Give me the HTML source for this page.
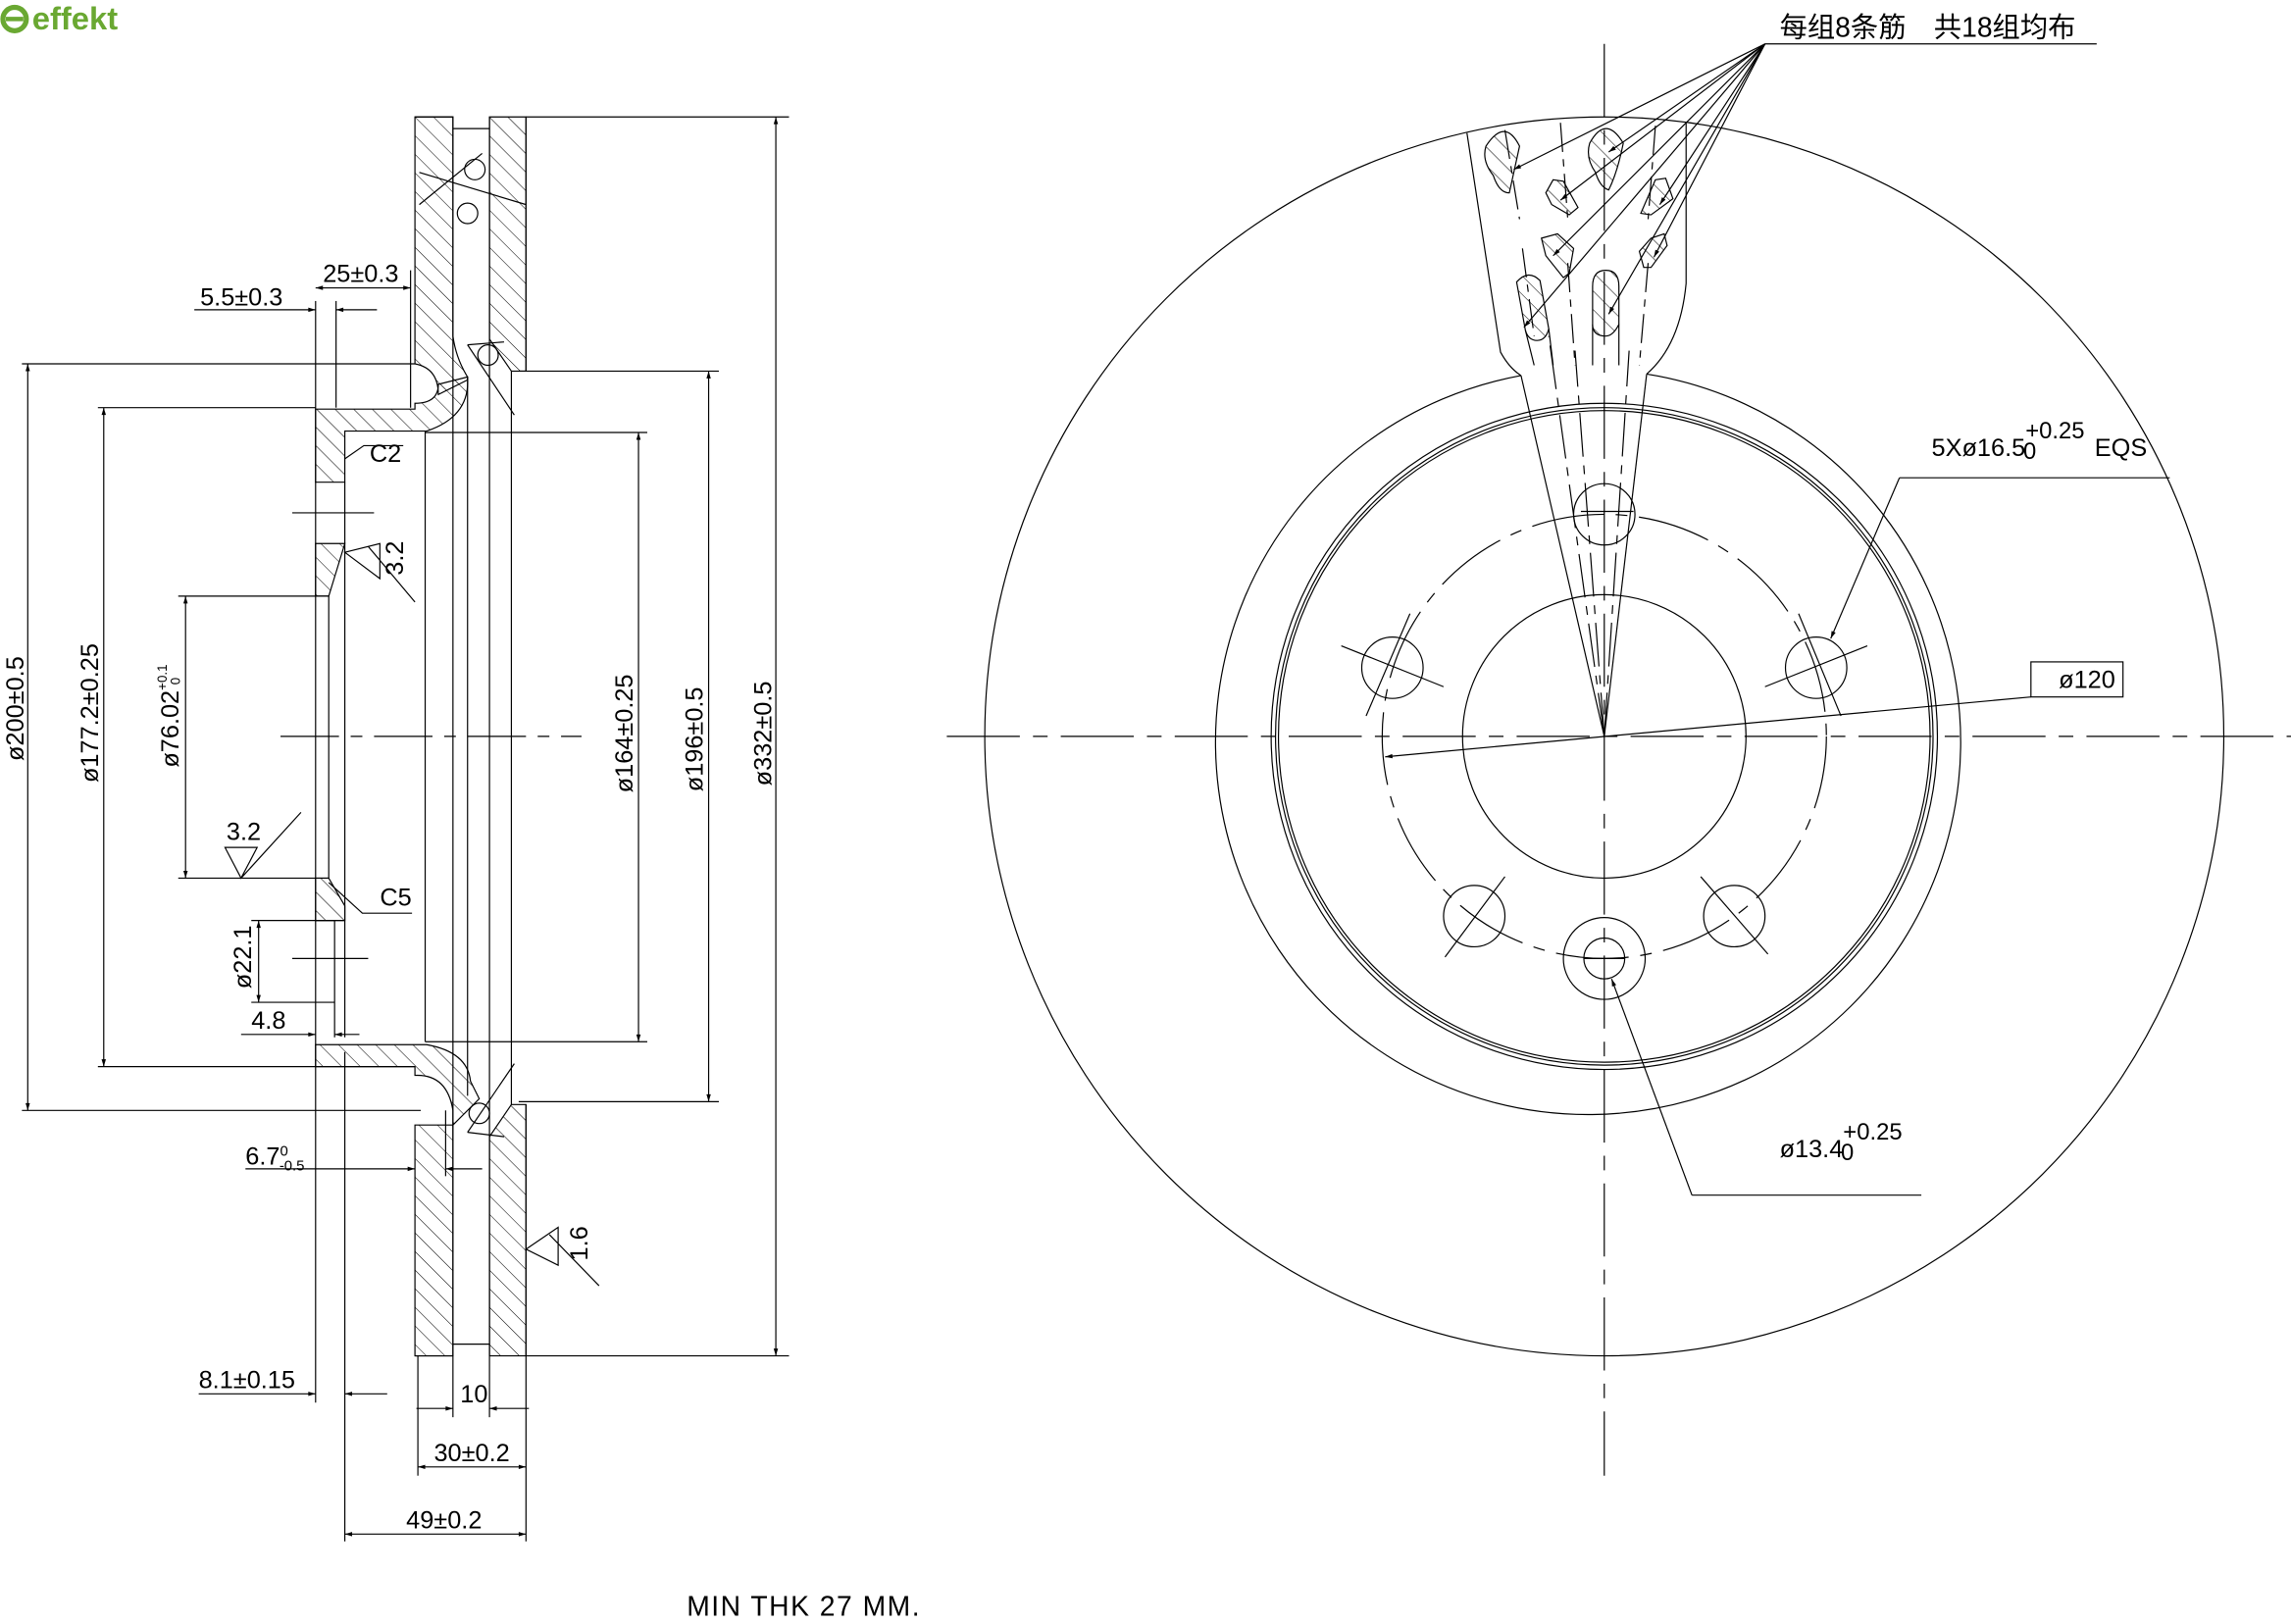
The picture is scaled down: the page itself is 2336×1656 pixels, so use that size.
<!DOCTYPE html>
<html><head><meta charset="utf-8"><style>
html,body{margin:0;padding:0;background:#fff;}
svg{display:block;}
text{font-family:"Liberation Sans","Noto Sans CJK SC",sans-serif;fill:#000;}
</style></head><body>
<svg width="2336" height="1656" viewBox="0 0 1568 1111.5" xmlns="http://www.w3.org/2000/svg">
<defs>
<pattern id="h" width="9" height="9" patternUnits="userSpaceOnUse" patternTransform="rotate(-45)">
<line x1="0" y1="0" x2="0" y2="9" stroke="#000" stroke-width="0.7"/></pattern>
<marker id="a" viewBox="0 0 10 10" refX="10" refY="5" markerWidth="9" markerHeight="5" orient="auto-start-reverse" markerUnits="userSpaceOnUse"><path d="M0,2 L10,5 L0,8 z" fill="#000"/></marker>
</defs>
<rect width="1568" height="1111.5" fill="#fff"/>
<!-- logo -->
<circle cx="10" cy="13" r="8" fill="none" stroke="#6aa832" stroke-width="3.5"/>
<line x1="4" y1="13" x2="16" y2="13" stroke="#6aa832" stroke-width="3"/>
<text x="22" y="20" font-size="22" font-weight="bold" style="fill:#6aa832">effekt</text>

<g stroke="#000" stroke-width="0.8" fill="none">
<!-- LEFT SECTION -->
<!-- left plate -->
<path d="M284,80 H310 V230 Q312,245 320,258 V260 L300,270 Q300,252 284,249 Z" fill="url(#h)"/>
<path d="M284,770 H310 V928 H284 Z" fill="url(#h)"/>
<path d="M284,80 H310 V928 H284"/>
<!-- right plate -->
<path d="M335,80 H360 V254 H350 L335,232 Z" fill="url(#h)"/>
<path d="M335,928 H360 V756 H350 L335,778 Z" fill="url(#h)"/>
<line x1="335" y1="80" x2="335" y2="928"/><line x1="360" y1="80" x2="360" y2="254"/><line x1="360" y1="756" x2="360" y2="928"/>
<line x1="350" y1="254" x2="350" y2="756"/><line x1="320" y1="258" x2="320" y2="750"/>
<line x1="310" y1="88" x2="335" y2="88"/><line x1="310" y1="920" x2="335" y2="920"/>
<line x1="291" y1="295" x2="291" y2="713"/>
<!-- vent circles/lines -->
<circle cx="325" cy="116" r="7"/><circle cx="320" cy="146" r="7"/><circle cx="334" cy="243" r="7"/><circle cx="328" cy="762" r="7"/>
<line x1="287" y1="118" x2="360" y2="140"/><line x1="287" y1="140" x2="330" y2="105"/>
<line x1="320" y1="236" x2="352" y2="284"/><line x1="320" y1="236" x2="345" y2="234"/>
<line x1="320" y1="775" x2="352" y2="728"/><line x1="320" y1="775" x2="345" y2="778"/>
<!-- top flange -->
<path d="M216,280 H284 V276 Q300,276 300,263 L320,258 Q322,285 292,295 H236 V330 H216 Z" fill="url(#h)"/>
<path d="M216,372 H236 L225,408 H216 Z" fill="url(#h)"/>
<line x1="236" y1="330" x2="236" y2="710"/>
<line x1="216" y1="280" x2="216" y2="730"/>
<line x1="225" y1="408" x2="225" y2="601"/>
<path d="M216,601 H225 L236,620 V630 H216 Z" fill="url(#h)"/>
<path d="M216,630 H236" /><line x1="229" y1="630" x2="229" y2="710"/>
<line x1="200" y1="351" x2="256" y2="351"/><line x1="200" y1="656" x2="252" y2="656"/>
<!-- bottom flange -->
<path d="M216,715 H292 Q320,720 322,740 L328,752 L310,770 L310,760 Q306,735 284,736 V730 H216 Z" fill="url(#h)"/>
<line x1="216" y1="730" x2="284" y2="730"/>
<!-- center line -->
<line x1="192" y1="504" x2="398" y2="504" stroke-dasharray="40,8,8,8"/>
<!-- dimensions -->
<line x1="360" y1="80" x2="540" y2="80"/><line x1="360" y1="928" x2="540" y2="928"/>
<line x1="531" y1="80" x2="531" y2="928" marker-start="url(#a)" marker-end="url(#a)"/>
<line x1="355" y1="254" x2="492" y2="254"/><line x1="355" y1="754" x2="492" y2="754"/>
<line x1="485" y1="254" x2="485" y2="754" marker-start="url(#a)" marker-end="url(#a)"/>
<line x1="291" y1="296" x2="443" y2="296"/><line x1="291" y1="713" x2="443" y2="713"/>
<line x1="437" y1="296" x2="437" y2="713" marker-start="url(#a)" marker-end="url(#a)"/>
<line x1="15" y1="249" x2="284" y2="249"/><line x1="15" y1="760" x2="288" y2="760"/>
<line x1="19" y1="249" x2="19" y2="760" marker-start="url(#a)" marker-end="url(#a)"/>
<line x1="67" y1="279" x2="216" y2="279"/><line x1="67" y1="730" x2="216" y2="730"/>
<line x1="71" y1="279" x2="71" y2="730" marker-start="url(#a)" marker-end="url(#a)"/>
<line x1="122" y1="408" x2="225" y2="408"/><line x1="122" y1="601" x2="225" y2="601"/>
<line x1="127" y1="408" x2="127" y2="601" marker-start="url(#a)" marker-end="url(#a)"/>
<!-- 5.5 / 25 -->
<line x1="230" y1="206" x2="230" y2="279"/><line x1="216" y1="206" x2="216" y2="280"/>
<line x1="133" y1="212" x2="216" y2="212" marker-end="url(#a)"/><line x1="258" y1="212" x2="230" y2="212" marker-end="url(#a)"/>
<line x1="281" y1="185" x2="281" y2="279"/>
<line x1="216" y1="197" x2="281" y2="197" marker-start="url(#a)" marker-end="url(#a)"/>
<!-- 22.1 / 4.8 -->
<line x1="172" y1="630" x2="229" y2="630"/><line x1="172" y1="686" x2="229" y2="686"/>
<line x1="177" y1="630" x2="177" y2="686" marker-start="url(#a)" marker-end="url(#a)"/>
<line x1="165" y1="708" x2="216" y2="708" marker-end="url(#a)"/><line x1="246" y1="708" x2="229" y2="708" marker-end="url(#a)"/>
<!-- 6.7 -->
<line x1="168" y1="800" x2="284" y2="800" marker-end="url(#a)"/><line x1="330" y1="800" x2="305" y2="800" marker-end="url(#a)"/>
<line x1="305" y1="760" x2="305" y2="805"/>
<!-- bottom dims -->
<line x1="216" y1="730" x2="216" y2="960"/><line x1="236" y1="720" x2="236" y2="1055"/>
<line x1="136" y1="954" x2="216" y2="954" marker-end="url(#a)"/><line x1="265" y1="954" x2="236" y2="954" marker-end="url(#a)"/>
<line x1="286" y1="928" x2="286" y2="1010"/><line x1="360" y1="928" x2="360" y2="1055"/>
<line x1="310" y1="928" x2="310" y2="970"/><line x1="335" y1="928" x2="335" y2="970"/>
<line x1="285" y1="964" x2="310" y2="964" marker-end="url(#a)"/><line x1="362" y1="964" x2="335" y2="964" marker-end="url(#a)"/>
<line x1="286" y1="1004" x2="360" y2="1004" marker-start="url(#a)" marker-end="url(#a)"/>
<line x1="236" y1="1050" x2="360" y2="1050" marker-start="url(#a)" marker-end="url(#a)"/>
<!-- leaders -->
<path d="M236,314 L249,305 H276"/><path d="M225,604 L248,625 H282"/>
<path d="M236,378 L260,372 V396 L236,378 Z M252,374 L284,412"/>
<path d="M154,580 H176 L165,601 Z M165,601 L206,556"/>
<path d="M360,855 L382,840 V866 Z M376,845 L410,880"/>

<!-- RIGHT VIEW -->
<circle cx="1098" cy="504" r="424"/>
<path d="M1041,257 A255,255 0 1 0 1127,256"/>
<circle cx="1098" cy="504" r="228"/><circle cx="1098" cy="504" r="225"/><circle cx="1098" cy="504" r="223"/>
<circle cx="1098" cy="504" r="152" stroke-dasharray="50,8,8,8"/>
<circle cx="1098" cy="504" r="97"/>
<line x1="648" y1="504" x2="1568" y2="504" stroke-dasharray="50,9,10,9"/>
<line x1="1098" y1="30" x2="1098" y2="1010" stroke-dasharray="50,9,10,9"/>
<!-- bolt holes -->
<circle cx="1098" cy="352" r="21"/><circle cx="953" cy="457" r="21"/><circle cx="1243" cy="457" r="21"/>
<circle cx="1009" cy="627" r="21"/><circle cx="1187" cy="627" r="21"/>
<circle cx="1098" cy="656" r="28"/><circle cx="1098" cy="656" r="14"/>
<line x1="1082" y1="350" x2="1118" y2="350"/><line x1="918" y1="442" x2="988" y2="470"/><line x1="935" y1="490" x2="965" y2="420"/>
<line x1="1208" y1="470" x2="1278" y2="442"/><line x1="1231" y1="420" x2="1260" y2="490"/>
<line x1="989" y1="655" x2="1030" y2="600"/><line x1="1164" y1="600" x2="1210" y2="653"/><line x1="1084" y1="656" x2="1112" y2="656"/>
<!-- radial lines to vent area -->
<line x1="1098" y1="504" x2="1041" y2="257"/><line x1="1098" y1="504" x2="1127" y2="256"/>
<line x1="1098" y1="504" x2="1060" y2="230" stroke-dasharray="30,6,6,6"/><line x1="1098" y1="504" x2="1078" y2="240" stroke-dasharray="30,6,6,6"/>
<line x1="1098" y1="504" x2="1115" y2="240" stroke-dasharray="30,6,6,6"/>
<!-- vent fan -->
<path d="M1004,91 L1027,241 Q1033,252 1041,257"/>
<path d="M1154,84 L1154,194 Q1150,236 1127,256"/>
<path d="M1030,89 L1040,150 M1042,170 L1050,230" stroke-dasharray="20,5,5,5"/>
<path d="M1068,84 L1073,150 M1073,180 L1078,250" stroke-dasharray="20,5,5,5"/>
<path d="M1133,86 L1128,150 M1128,180 L1122,250" stroke-dasharray="20,5,5,5"/>
<path d="M1017,100 Q1030,80 1040,100 Q1036,118 1033,132 Q1026,132 1022,120 Q1014,110 1017,100 Z" fill="url(#h)"/>
<path d="M1088,98 Q1099,78 1111,98 Q1107,118 1101,130 Q1095,128 1092,118 Q1085,108 1088,98 Z" fill="url(#h)"/>
<path d="M1063,123 L1070,124 L1080,142 L1074,147 L1062,140 L1058,132 Z" fill="url(#h)"/>
<path d="M1133,123 L1140,122 L1145,136 L1130,147 L1123,146 Z" fill="url(#h)"/>
<path d="M1055,163 L1066,160 L1077,170 L1074,187 L1070,190 L1058,175 Z" fill="url(#h)"/>
<path d="M1130,163 L1139,160 L1141,168 L1130,183 L1125,183 L1122,172 Z" fill="url(#h)"/>
<path d="M1038,193 Q1046,184 1054,192 L1060,225 Q1058,233 1052,233 Q1046,233 1044,226 Z" fill="url(#h)"/>
<path d="M1090,196 Q1090,185 1099,185 Q1108,185 1108,196 V222 Q1104,230 1099,230 Q1090,230 1090,222 Z" fill="url(#h)"/>
<path d="M1090,222 V250 M1108,222 V250 M1044,226 L1050,250 M1060,225 L1063,250"/>
<!-- leader from note -->
<line x1="1208" y1="30" x2="1435" y2="30"/>
<g marker-end="url(#a)">
<line x1="1208" y1="30" x2="1036" y2="116"/><line x1="1208" y1="30" x2="1101" y2="104"/>
<line x1="1208" y1="30" x2="1068" y2="137"/><line x1="1208" y1="30" x2="1136" y2="140"/>
<line x1="1208" y1="30" x2="1063" y2="175"/><line x1="1208" y1="30" x2="1132" y2="176"/>
<line x1="1208" y1="30" x2="1043" y2="224"/><line x1="1208" y1="30" x2="1101" y2="215"/>
</g>
<!-- callouts -->
<line x1="1300" y1="327" x2="1485" y2="327"/><line x1="1300" y1="327" x2="1253" y2="437" marker-end="url(#a)"/>
<rect x="1390" y="453" width="63" height="24"/>
<line x1="1390" y1="477" x2="948" y2="518" marker-end="url(#a)"/>
<line x1="1158" y1="818" x2="1315" y2="818"/><line x1="1158" y1="818" x2="1103" y2="670" marker-end="url(#a)"/>
</g>

<!-- texts -->
<g font-size="17">
<text x="137" y="209">5.5±0.3</text>
<text x="221" y="193">25±0.3</text>
<text x="253" y="316">C2</text>
<text x="260" y="620">C5</text>
<text x="155" y="575">3.2</text>
<text x="172" y="704">4.8</text>
<text x="168" y="797">6.7<tspan font-size="10" dy="-6">0</tspan><tspan font-size="10" dx="-6" dy="10">-0.5</tspan></text>
<text x="136" y="950">8.1±0.15</text>
<text x="315" y="960">10</text>
<text x="297" y="1000">30±0.2</text>
<text x="278" y="1046">49±0.2</text>
<text transform="translate(16,485) rotate(-90)" text-anchor="middle">ø200±0.5</text>
<text transform="translate(67,488) rotate(-90)" text-anchor="middle">ø177.2±0.25</text>
<text transform="translate(122,490) rotate(-90)" text-anchor="middle">ø76.02<tspan font-size="9" dy="-8">+0.1</tspan><tspan font-size="9" dx="-14" dy="9">0</tspan></text>
<text transform="translate(433,502) rotate(-90)" text-anchor="middle">ø164±0.25</text>
<text transform="translate(481,506) rotate(-90)" text-anchor="middle">ø196±0.5</text>
<text transform="translate(528,502) rotate(-90)" text-anchor="middle">ø332±0.5</text>
<text transform="translate(276,382) rotate(-90)" text-anchor="middle">3.2</text>
<text transform="translate(402,851) rotate(-90)" text-anchor="middle">1.6</text>
<text transform="translate(172,655) rotate(-90)" text-anchor="middle">ø22.1</text>
<text x="470" y="1106" font-size="19" letter-spacing="1">MIN THK 27 MM.</text>
<text x="1218" y="25" font-size="19">每组8条筋　共18组均布</text>
<text x="1322" y="312">5Xø16.5<tspan font-size="16" dy="-12">+0.25</tspan><tspan font-size="16" dx="-42" dy="14">0</tspan><tspan dx="40" dy="-2">EQS</tspan></text>
<text x="1409" y="471">ø120</text>
<text x="1218" y="792">ø13.4<tspan font-size="16" dy="-12">+0.25</tspan><tspan font-size="16" dx="-42" dy="14">0</tspan></text>
</g>
</svg>
</body></html>
